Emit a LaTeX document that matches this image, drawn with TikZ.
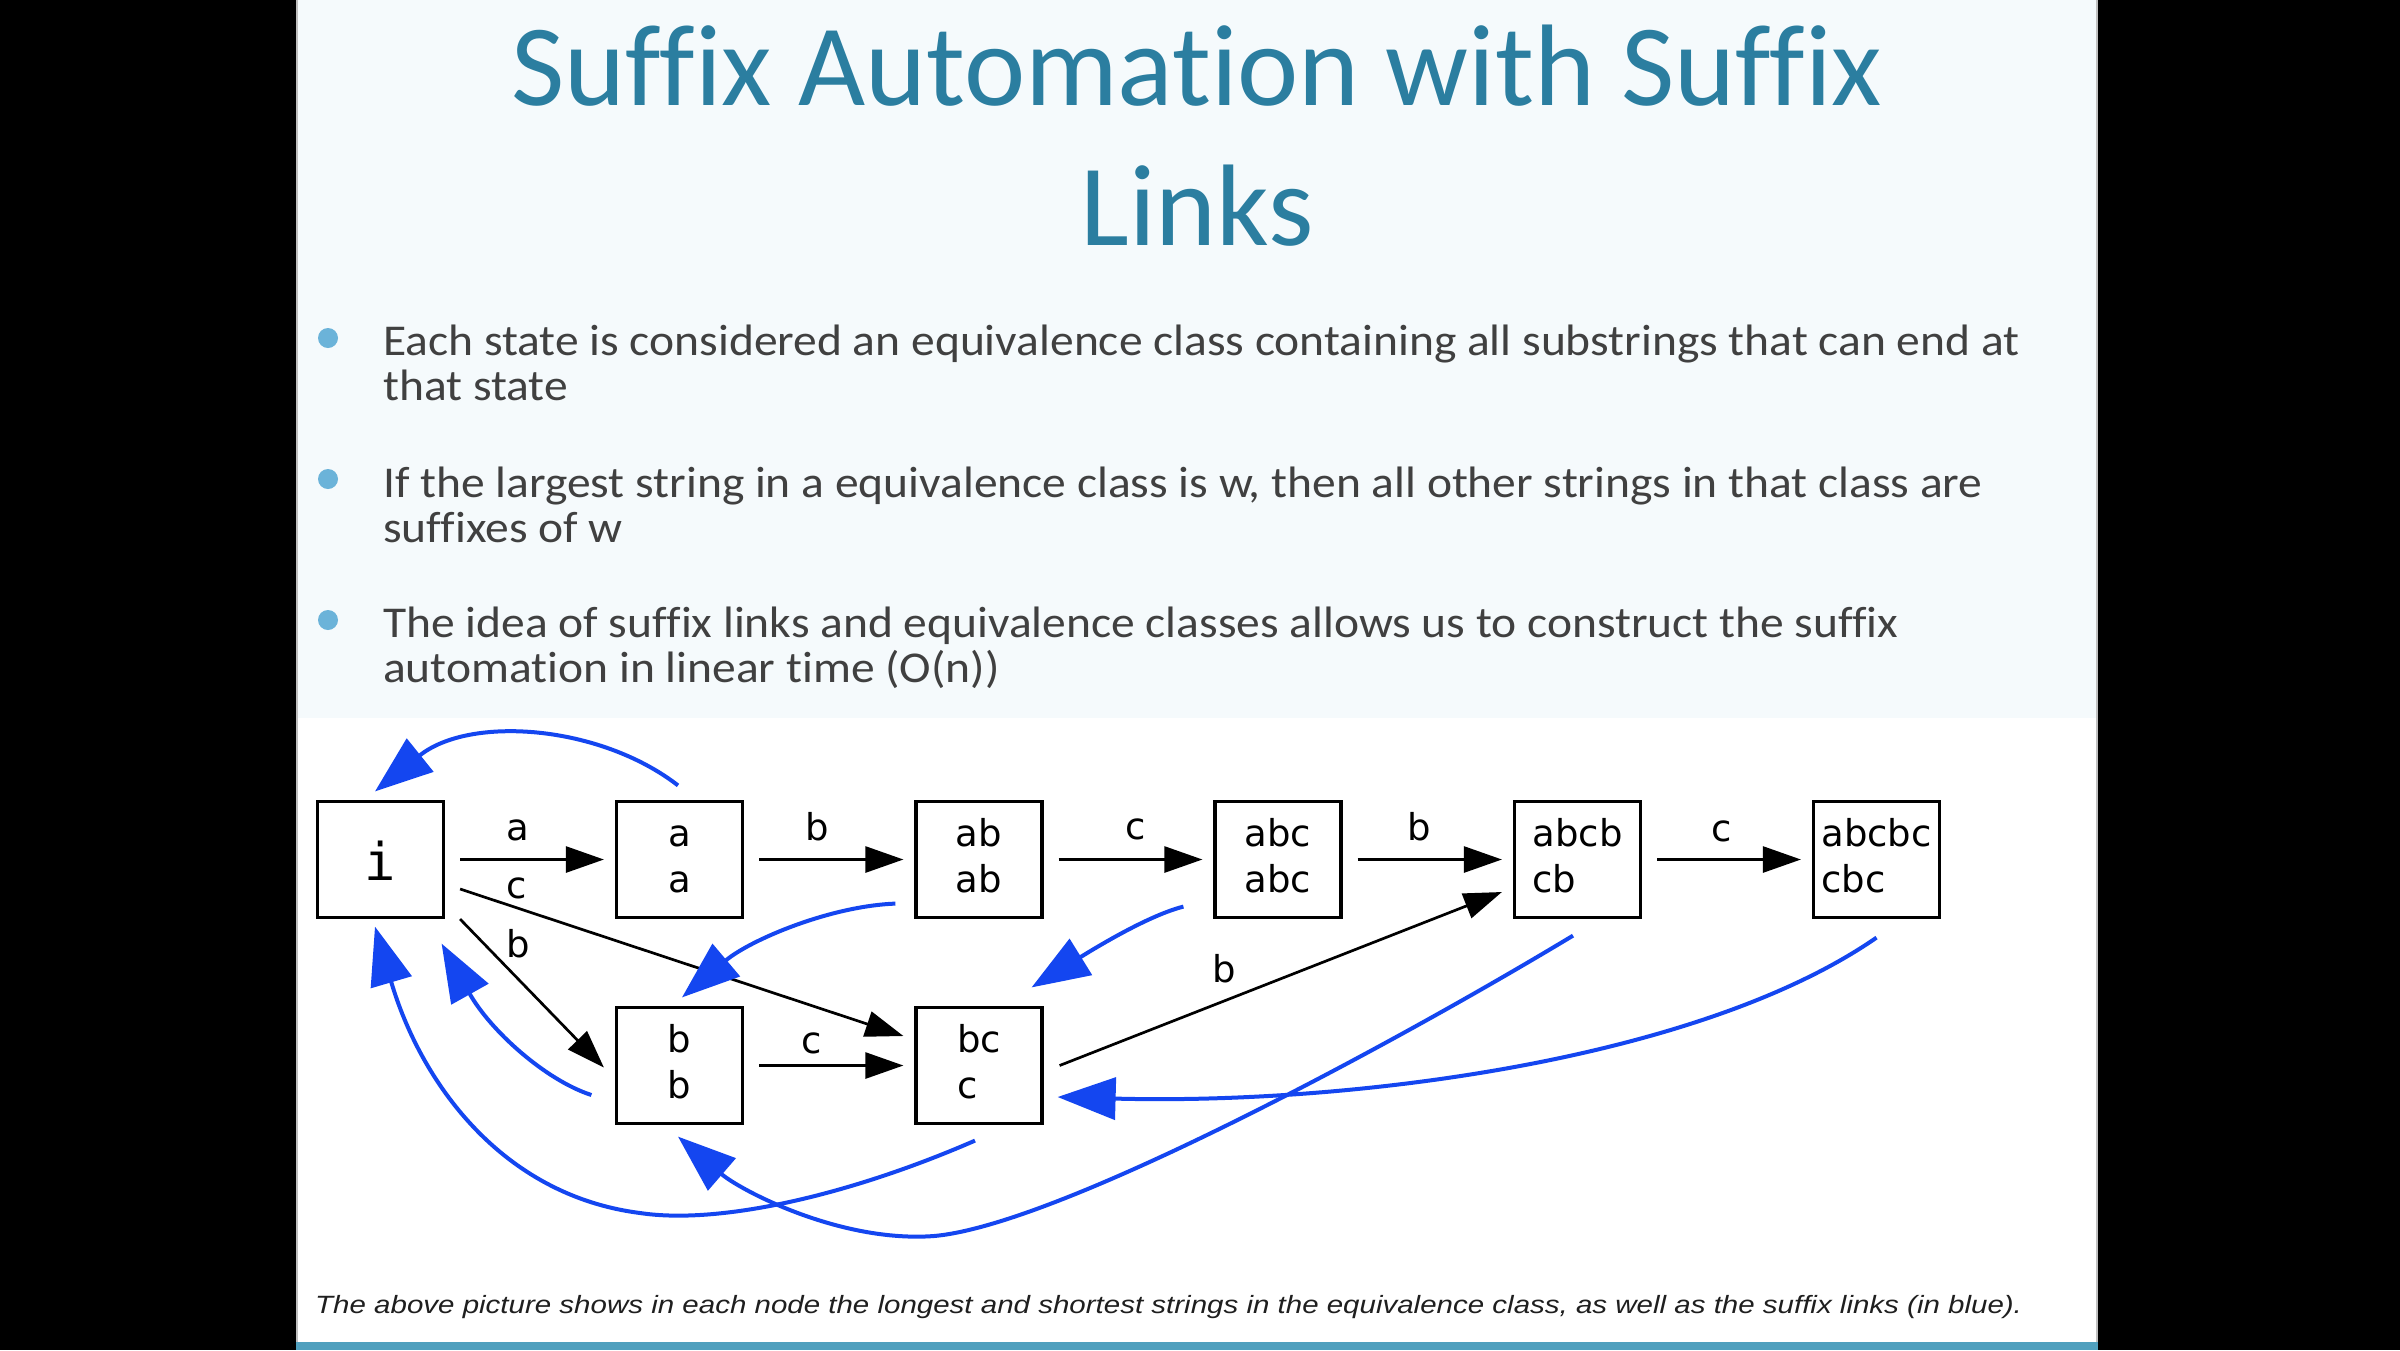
\documentclass[tikz,border=0pt]{standalone}
\usepackage{fontspec}
\setmainfont{Carlito}[Ligatures=NoCommon]
\newfontfamily\bodyfont{Carlito}[Ligatures=NoCommon, FakeStretch=1.08]
\newfontfamily\dejavu{DejaVu Sans}
\newfontfamily\dejavumono{DejaVu Sans Mono}
\newfontfamily\capfont{Liberation Sans}[FakeStretch=1.18]
\usetikzlibrary{arrows.meta,calc}
\definecolor{titleblue}{RGB}{43,126,160}
\definecolor{bodygray}{RGB}{64,64,64}
\definecolor{bulletblue}{RGB}{107,179,217}
\definecolor{slidebg}{RGB}{245,250,252}
\definecolor{barteal}{RGB}{80,160,190}
\definecolor{linkblue}{RGB}{20,70,240}
\begin{document}
\begin{tikzpicture}[x=1pt,y=-1pt,
  state/.style={draw=black, line width=3.2pt, minimum width=126pt, minimum height=116pt,
    inner sep=0pt, align=left, text height=66pt, text depth=0pt,
    font=\dejavu\fontsize{37}{46}\selectfont},
  lbl/.style={font=\dejavu\fontsize{37}{44}\selectfont, anchor=base, inner sep=0pt},
  tr/.style={line width=2.7pt, -{Triangle[length=38pt,width=26pt]}},
  sl/.style={draw=linkblue, line width=4pt, -{Triangle[length=58pt,width=42pt]}},
  bodytext/.style={font=\bodyfont\fontsize{44}{46}\selectfont, text=bodygray, anchor=base west, inner sep=0pt},
  titletext/.style={font=\fontsize{116}{140}\selectfont, text=titleblue, anchor=base, inner sep=0pt},
  bulletdot/.style={fill=bulletblue, draw=none},
]
\useasboundingbox (0,0) rectangle (2400,1350);
\fill[black] (0,0) rectangle (2400,1350);
\fill[slidebg] (296,0) rectangle (2098,1342);
\fill[white] (296,718) rectangle (2098,1342);
\fill[barteal] (296,1342) rectangle (2098,1350);
\draw[gray!50, line width=1.5pt] (297,0) -- (297,1342);
\draw[gray!50, line width=1.5pt] (2097,0) -- (2097,1342);

% title
\node[titletext] (t1) at (1197,105) {Suffix Automation with Suffix};
\node[titletext] (t2) at (1197,245) {Links};

% bullets
\fill[bulletdot] (328,338) circle[radius=10pt];
\fill[bulletdot] (328,479) circle[radius=10pt];
\fill[bulletdot] (328,620) circle[radius=10pt];
\node[bodytext] (b1a) at (383,355) {Each state is considered an equivalence class containing all substrings that can end at};
\node[bodytext] (b1b) at (383,400) {that state};
\node[bodytext] (b2a) at (383,497) {If the largest string in a equivalence class is w, then all other strings in that class are};
\node[bodytext] (b2b) at (383,542) {suffixes of w};
\node[bodytext] (b3a) at (383,637) {The idea of suffix links and equivalence classes allows us to construct the suffix};
\node[bodytext] (b3b) at (383,682) {automation in linear time (O(n))};

% states
\node[state, text height=41pt, text depth=0pt, font=\dejavumono\fontsize{52}{52}\selectfont] (i) at (380.5,859.5) {i};
\node[state] (a) at (679.5,859.5) {a\\a};
\node[state] (ab) at (979,859.5) {ab\\ab};
\node[state] (abc) at (1278,859.5) {abc\\abc};
\node[state] (abcb) at (1577.5,859.5) {abcb\\cb};
\node[state] (abcbc) at (1876.5,859.5) {abcbc\\cbc};
\node[state] (b) at (679.5,1065.5) {b\\b};
\node[state] (bc) at (979,1065.5) {bc\\c};

% transitions
\draw[tr] ($(i.east)+(15,0)$) -- ($(a.west)+(-11,0)$);
\draw[tr] ($(a.east)+(15,0)$) -- ($(ab.west)+(-11,0)$);
\draw[tr] ($(ab.east)+(15,0)$) -- ($(abc.west)+(-11,0)$);
\draw[tr] ($(abc.east)+(15,0)$) -- ($(abcb.west)+(-11,0)$);
\draw[tr] ($(abcb.east)+(15,0)$) -- ($(abcbc.west)+(-11,0)$);
\draw[tr] ($(b.east)+(15,0)$) -- ($(bc.west)+(-11,0)$);
\draw[tr] ($(i.east)+(15,29.5)$) -- ($(bc.west)+(-11,-29.5)$);
\draw[tr] ($(i.south east)+(15,0)$) -- ($(b.west)+(-11,2)$);
\draw[tr] ($(bc.east)+(16,0)$) -- ($(abcb.west)+(-11,32.5)$);

% transition labels
\node[lbl] (la1) at (518,840) {a};
\node[lbl] (lb1) at (817,840) {b};
\node[lbl] (lc1) at (1136,839) {c};
\node[lbl] (lb2) at (1419,840) {b};
\node[lbl] (lc2) at (1722,841) {c};
\node[lbl] (lc3) at (517,898) {c};
\node[lbl] (lb3) at (518,957) {b};
\node[lbl] (lc4) at (812,1053) {c};
\node[lbl] (lb4) at (1224,982) {b};

% suffix links
\draw[sl] ($(a.north)+(-1.5,-14.5)$) .. controls (600,725) and (470,715) .. ($(i.north)+(-5.5,-8.5)$);
\draw[sl] ($(ab.south west)+(-19,-15.5)$) .. controls (830,906) and (750,940) .. ($(b.north)+(2.5,-8.5)$);
\draw[sl] ($(abc.south west)+(-30,-12.5)$) .. controls (1150,915) and (1100,945) .. ($(bc.north east)+(-12,-18.5)$);
\draw[sl] ($(b.west)+(-23.5,29.5)$) .. controls (545,1080) and (490,1030) .. ($(i.south east)+(-3.5,24.5)$);
\draw[sl] ($(bc.south)+(-4,15.5)$) .. controls (850,1195) and (720,1225) .. (640,1213)
   .. controls (500,1195) and (420,1080) .. ($(i.south)+(-5.5,7.5)$);
\draw[sl] ($(abcb.south)+(-4.5,16.5)$) .. controls (1400,1040) and (1060,1225) .. (934,1236)
   .. controls (840,1243) and (740,1190) .. ($(b.south)+(-1.5,11.5)$);
\draw[sl] ($(abcbc.south)+(0,18.5)$) .. controls (1700,1060) and (1350,1105) .. ($(bc.east)+(14,31.5)$);

% caption
\node[font=\capfont\itshape\fontsize{25}{30}\selectfont, text=black!88, anchor=base west, inner sep=0pt] (cap) at (315,1313)
  {The above picture shows in each node the longest and shortest strings in the equivalence class, as well as the suffix links (in blue).};
\end{tikzpicture}
\end{document}
